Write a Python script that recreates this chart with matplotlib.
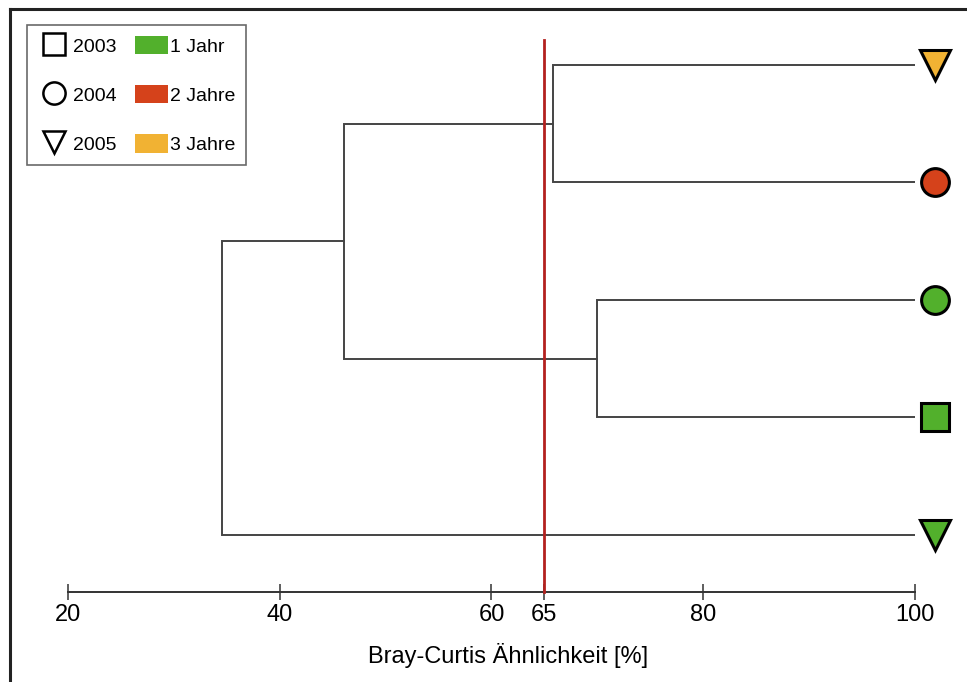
import matplotlib
matplotlib.use("Agg")
from matplotlib import pyplot as plt
from matplotlib.lines import Line2D
from matplotlib.patches import Patch

plt.rcParams['font.family'] = ['Liberation Sans', 'DejaVu Sans']

# leaves, top to bottom
leaf_year = ['2005', '2004', '2004', '2003', '2005']
leaf_age = ['3 Jahre', '2 Jahre', '1 Jahr', '1 Jahr', '1 Jahr']

# merges: (left child, right child, similarity %) ; children >= 5 are earlier merges
merges = [(0, 1, 65.8), (2, 3, 70.0), (5, 6, 46.1), (7, 4, 34.5)]
cut = 65

ticks = [20, 40, 60, 65, 80, 100]
years = ['2003', '2004', '2005']
ages = ['1 Jahr', '2 Jahre', '3 Jahre']

year_marker = {'2003': 's', '2004': 'o', '2005': 'v'}
age_color = {'1 Jahr': '#52b02c', '2 Jahre': '#d5421b', '3 Jahre': '#f1b233'}
line_col = '#444444'

fig = plt.figure(figsize=(9.67, 6.82), dpi=100)
ax = fig.add_axes([68/967, 0, 847/967, 1])
ax.set_xlim(20, 100)
ax.set_ylim(5.251, -0.553)
axis_y = 4.485

# dendrogram
pos_y = list(range(len(leaf_year)))
pos_x = [100] * len(leaf_year)
for a, b, h in merges:
    ax.plot([pos_x[a], h, h, pos_x[b]], [pos_y[a], pos_y[a], pos_y[b], pos_y[b]],
            color=line_col, lw=1.4, solid_joinstyle='miter')
    pos_y.append((pos_y[a] + pos_y[b]) / 2)
    pos_x.append(h)

# leaf symbols
for i in range(len(leaf_year)):
    ax.plot(101.9, i, marker=year_marker[leaf_year[i]], ms=20 if leaf_year[i] != '2005' else 21,
            mfc=age_color[leaf_age[i]], mec='black', mew=2.2, clip_on=False, zorder=5)

# cut line
ax.plot([cut, cut], [-0.21, axis_y], color='#b3211f', lw=2, zorder=4)

for s in ['top', 'left', 'right']:
    ax.spines[s].set_visible(False)
ax.spines['bottom'].set_position(('data', axis_y))
ax.spines['bottom'].set_color('#333333')
ax.spines['bottom'].set_linewidth(1.4)
ax.set_yticks([])
ax.set_xticks(ticks)
ax.set_xticklabels([str(t) for t in ticks])
ax.tick_params(axis='x', direction='inout', length=11, width=1.1, color='#333333',
               labelsize=17, pad=3.5)

fig.text(508/967, 1 - 656/682, 'Bray-Curtis Ähnlichkeit [%]', ha='center', va='center', fontsize=17)

# outer frame (top and left edges)
fig.add_artist(Line2D([10/967, 1], [1 - 9/682, 1 - 9/682], color='#222222', lw=2.2, transform=fig.transFigure))
fig.add_artist(Line2D([10/967, 10/967], [0, 1 - 9/682], color='#222222', lw=2.2, transform=fig.transFigure))

# legend
handles = [Line2D([], [], ls='none', marker=year_marker[y], ms=16, mfc='none', mec='black', mew=1.8) for y in years]
handles += [Patch(facecolor=age_color[a], edgecolor='none') for a in ages]
leg = ax.legend(handles, years + ages, ncol=2, loc='upper left',
                bbox_to_anchor=(27/967, 1 - 25/682), bbox_transform=fig.transFigure,
                borderaxespad=0, fancybox=False, edgecolor='#444444', fontsize=14,
                handlelength=1.7, handleheight=1.1, handletextpad=0.1, columnspacing=0.95,
                labelspacing=1.5, borderpad=0.55)
leg.get_frame().set_linewidth(1.2)

fig.savefig('out.png', dpi=100)
